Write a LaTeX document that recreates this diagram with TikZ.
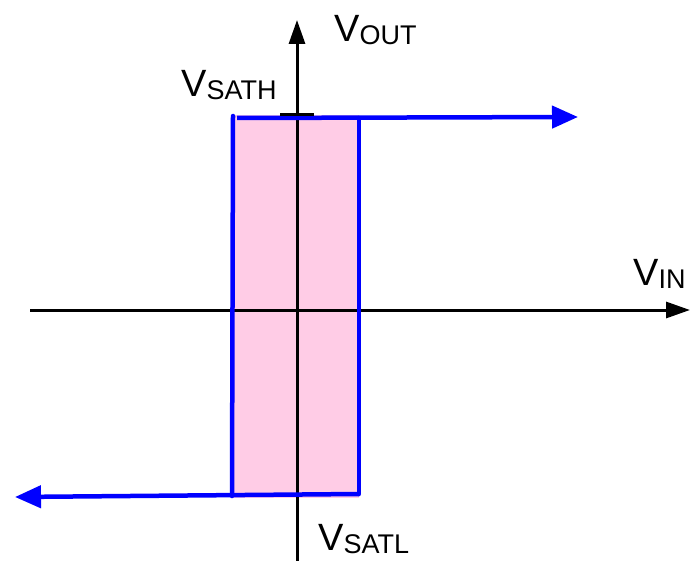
\documentclass[tikz,border=0pt]{standalone}
\usepackage{fontspec}
\setmainfont{Liberation Sans}
\usetikzlibrary{arrows.meta}
\definecolor{pinkfill}{HTML}{FFCCE6}
\definecolor{lineblue}{HTML}{0000FF}
\tikzset{
  axis/.style={black, line width=3pt, -{Triangle[length=24pt,width=16pt]}},
  blueline/.style={lineblue, line width=4.5pt},
  bluearrow/.style={blueline, -{Triangle[length=26pt,width=22pt]}},
  lbl/.style={inner sep=0pt, anchor=base west},
}
\newcommand{\vlab}[1]{{\fontsize{38}{40}\selectfont V}{\fontsize{27}{30}\selectfont\raisebox{-3pt}{#1}}}
\begin{document}
\begin{tikzpicture}[x=1pt,y=-1pt]
\useasboundingbox (0,0) rectangle (695,561);
% pink region
\fill[pinkfill] (231,115) rectangle (359,498);
% axes
\coordinate (xl) at (30,310);
\coordinate (xr) at (690,310);
\coordinate (yb) at (297,561);
\coordinate (yt) at (297,20);
\draw[axis] (xl) -- (xr);
\draw[axis] (yb) -- (yt);
% blue hysteresis loop
\coordinate (tl) at (233,116);
\coordinate (tr) at (359,118);
\coordinate (bl) at (232,496);
\coordinate (br) at (359,494);
\coordinate (topend) at (578,117);
\coordinate (botend) at (15,497);
\draw[blueline, line cap=round] (tl) -- (bl);
\draw[blueline, line cap=round] (tr) -- (br);
\draw[bluearrow] (237,118) -- (topend);
\draw[bluearrow] (br) -- (botend);
% tick at V_SATH
\coordinate (tka) at (280,115);
\coordinate (tkb) at (314,115);
\draw[black, line width=3pt] (tka) -- (tkb);
% labels
\node[lbl] (vout) at (334,42) {\vlab{OUT}};
\node[lbl] (vsath) at (181,97) {\vlab{SATH}};
\node[lbl] (vin) at (633,285) {\vlab{IN}};
\node[lbl] (vsatl) at (318,550) {\vlab{SATL}};
\end{tikzpicture}
\end{document}
